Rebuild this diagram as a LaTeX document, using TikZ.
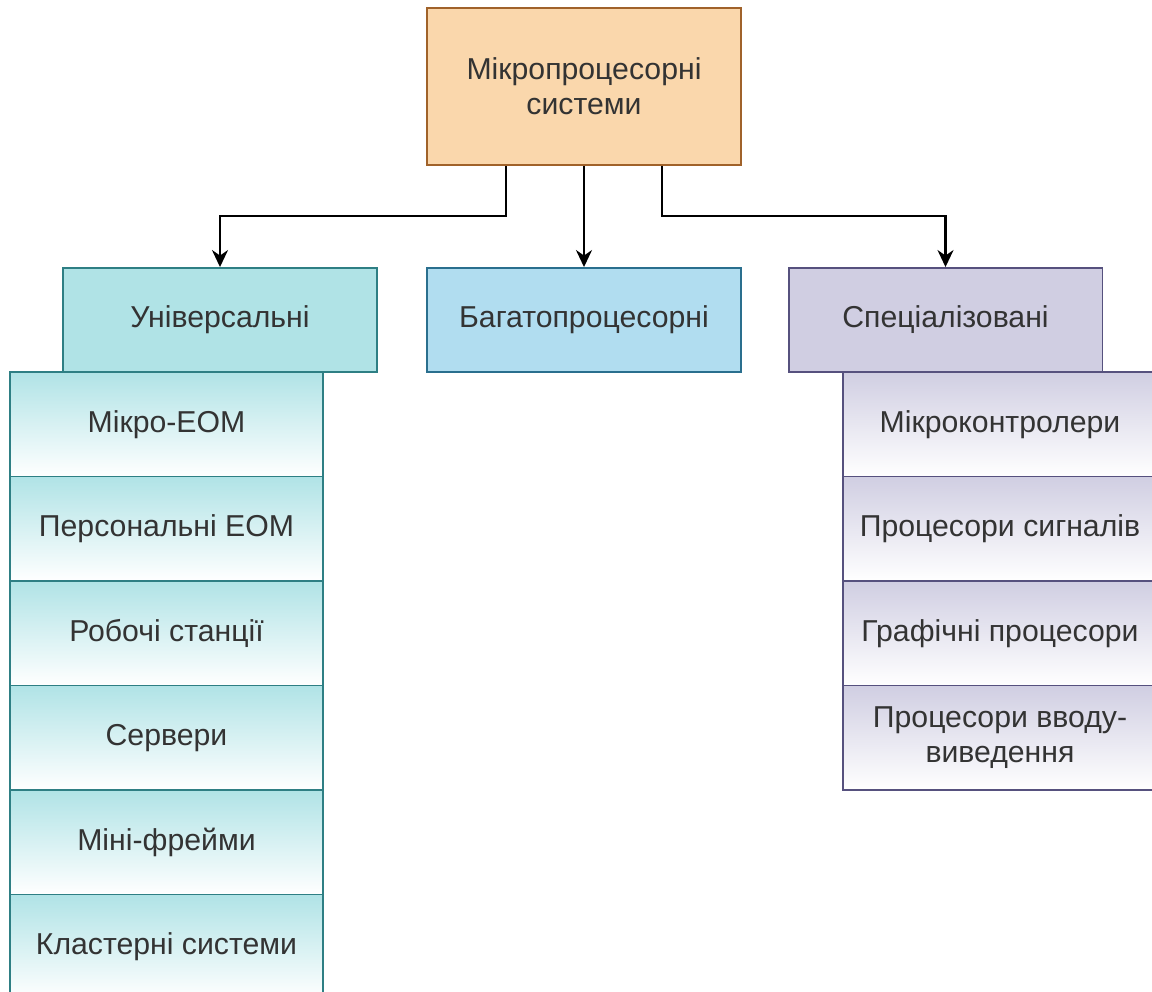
\documentclass[tikz,border=0pt]{standalone}
\usepackage{fontspec}
\setmainfont{Liberation Sans}
\usetikzlibrary{positioning,arrows.meta,calc}
\definecolor{mpsfill}{HTML}{FAD7AC}
\definecolor{mpsline}{HTML}{A0622A}
\definecolor{unifill}{HTML}{B0E3E6}
\definecolor{uniline}{HTML}{2E7F84}
\definecolor{multifill}{HTML}{B1DDF0}
\definecolor{multiline}{HTML}{2A6F8E}
\definecolor{specfill}{HTML}{D0CEE2}
\definecolor{specline}{HTML}{56517E}
\definecolor{txtgray}{HTML}{333333}

\begin{document}
\begin{tikzpicture}[x=0.02cm,y=-0.02cm,>={Stealth[length=3.4mm,width=3.2mm]},
  every node/.style={font=\fontsize{17.2}{20}\selectfont,text=txtgray,align=center,inner sep=0pt},
  box/.style={draw,line width=1.1pt,minimum width=6.28cm,minimum height=2.08cm},
  link/.style={->,line width=1.3pt},
  unirow/.style={box,draw=uniline,top color=unifill,bottom color=white,minimum width=6.26cm,minimum height=2.09cm},
  specrow/.style={box,draw=specline,top color=specfill,bottom color=white,minimum height=2.09cm}]
\useasboundingbox (0,0) rectangle (1152,991);
\clip (0,0) rectangle (1152,991);
% root and three groups
\node[box,fill=mpsfill,draw=mpsline,minimum height=3.14cm] (mps) at (584,86.5) {Мікропроцесорні\\системи};
\node[box,fill=unifill,draw=uniline] (univ) at (220,320) {Універсальні};
\node[box,fill=multifill,draw=multiline] (multi) at (584,320) {Багатопроцесорні};
\node[box,fill=specfill,draw=specline] (spec) at (945.5,320) {Спеціалізовані};
\draw[link] ($(mps.south west)+(80,0)$) -- ++(0,50) -| (univ.north);
\draw[link] (mps.south) -- (multi.north);
\draw[link] ($(mps.south east)+(-80,0)$) -- ++(0,50) -| (spec.north);
% lists
\foreach \txt [count=\i] in {Мікро-ЕОМ,Персональні ЕОМ,Робочі станції,Сервери,Міні-фрейми,Кластерні системи}
  \node[unirow] (u\i) at (166.5,{372+104.5*(\i-0.5)}) {\txt};
\foreach \txt [count=\i] in {Мікроконтролери,Процесори сигналів,Графічні процесори,{Процесори вводу-\\виведення}}
  \node[specrow] (s\i) at (1000,{372+104.5*(\i-0.5)}) {\txt};
\end{tikzpicture}
\end{document}
